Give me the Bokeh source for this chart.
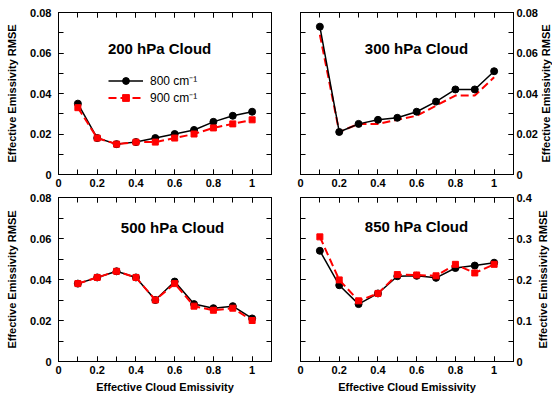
import math
from bokeh.plotting import figure
from bokeh.models import (LinearAxis, SingleIntervalTicker, CustomJSTickFormatter,
                          Range1d, Label, Legend, LegendItem)
from bokeh.layouts import column, row
from bokeh.embed import file_html
from bokeh.resources import INLINE

# ---------------- data ----------------
emissivity = [0.1, 0.2, 0.3, 0.4, 0.5, 0.6, 0.7, 0.8, 0.9, 1.0]

c200_800 = [0.035, 0.018, 0.015, 0.016, 0.018, 0.020, 0.022, 0.026, 0.029, 0.031]
c200_900 = [0.033, 0.018, 0.015, 0.016, 0.016, 0.018, 0.020, 0.023, 0.025, 0.027]
c300_800 = [0.073, 0.021, 0.025, 0.027, 0.028, 0.031, 0.036, 0.042, 0.042, 0.051]
c300_900 = [0.069, 0.021, 0.025, 0.025, 0.027, 0.029, 0.034, 0.039, 0.039, 0.048]
c500_800 = [0.038, 0.041, 0.044, 0.041, 0.030, 0.039, 0.028, 0.026, 0.027, 0.021]
c500_900 = [0.038, 0.041, 0.044, 0.041, 0.030, 0.038, 0.027, 0.025, 0.026, 0.020]
c850_800 = [0.270, 0.186, 0.140, 0.166, 0.208, 0.209, 0.204, 0.228, 0.234, 0.241]
c850_900 = [0.304, 0.199, 0.148, 0.166, 0.212, 0.211, 0.209, 0.237, 0.216, 0.237]

panel_titles = ["200 hPa Cloud", "300 hPa Cloud", "500 hPa Cloud", "850 hPa Cloud"]
series_labels = ["800 cm\u207b\u00b9", "900 cm\u207b\u00b9"]
y_title = "Effective Emissivity RMSE"
x_title = "Effective Cloud Emissivity"

FONT = "Liberation Sans"
FMT = "return Number(tick.toFixed(4)).toString();"


def style_axis(ax, interval, show_labels, standoff=5):
    ax.ticker = SingleIntervalTicker(interval=interval, num_minor_ticks=2)
    ax.formatter = CustomJSTickFormatter(code=FMT)
    ax.major_tick_in = 5
    ax.major_tick_out = 0
    ax.minor_tick_in = 5
    ax.minor_tick_out = 0
    ax.axis_line_color = "black"
    ax.major_tick_line_color = "black"
    ax.minor_tick_line_color = "black"
    ax.major_label_text_font = FONT
    ax.major_label_text_font_style = "bold"
    if show_labels:
        ax.major_label_text_color = "black"
        ax.major_label_text_font_size = "11px"
        ax.major_label_standoff = standoff
    else:
        ax.major_label_text_color = None
        ax.major_label_text_font_size = "0px"
        ax.major_label_standoff = 0
    ax.axis_label_text_font = FONT
    ax.axis_label_text_font_style = "bold"
    ax.axis_label_text_font_size = "11px"
    ax.axis_label_text_color = "black"


def make_panel(ymax, yint, right_side, bottom_row, width, height, borders):
    bl, br, bt, bb = borders
    p = figure(width=width, height=height,
               x_range=Range1d(0, 1.1), y_range=Range1d(0, ymax),
               x_axis_location=None, y_axis_location=None,
               output_backend="svg", toolbar_location=None,
               min_border_left=bl, min_border_right=br,
               min_border_top=bt, min_border_bottom=bb)
    p.grid.visible = False
    p.outline_line_color = "black"
    p.outline_line_width = 1
    p.background_fill_color = "white"
    p.border_fill_color = "white"

    xb = LinearAxis()
    style_axis(xb, 0.2, True, standoff=4)
    if bottom_row:
        xb.axis_label = x_title
        xb.axis_label_standoff = 4
    p.add_layout(xb, "below")

    xa = LinearAxis()
    style_axis(xa, 0.2, False)
    p.add_layout(xa, "above")

    yl = LinearAxis()
    yr = LinearAxis()
    if right_side:
        style_axis(yr, yint, True, standoff=3)
        style_axis(yl, yint, False)
    else:
        style_axis(yl, yint, True, standoff=7)
        yl.axis_label = y_title
        yl.axis_label_standoff = 9
        style_axis(yr, yint, False)
    p.add_layout(yl, "left")
    p.add_layout(yr, "right")
    return p


def add_series(p, y800, y900, red_markers=True, red_first=False):
    def black():
        l = p.line(emissivity, y800, line_color="black", line_width=1.5)
        s = p.scatter(emissivity, y800, marker="circle", size=7,
                      fill_color="black", line_color="black")
        return [l, s]

    def red():
        l = p.line(emissivity, y900, line_color="#ff0000", line_width=2,
                   line_dash="8 4")
        rs = [l]
        if red_markers:
            s = p.scatter(emissivity, y900, marker="square", size=6,
                          fill_color="#ff0000", line_color="#ff0000")
            rs.append(s)
        return rs

    if red_first:
        r = red()
        b = black()
    else:
        b = black()
        r = red()
    return b, r


def add_title(p, x, y, text):
    p.add_layout(Label(x=x, y=y, text=text, text_align="center",
                       text_baseline="middle", text_font=FONT,
                       text_font_style="bold", text_font_size="15px",
                       text_color="black"))


def add_right_title(p, x, y):
    # placed in the right side panel so it is not clipped to the frame
    p.add_layout(Label(x=x, y=y, text=y_title, angle=math.pi / 2,
                       text_align="center", text_baseline="middle",
                       text_font=FONT, text_font_style="bold",
                       text_font_size="11px", text_color="black"), "right")


# top-left: 200 hPa
p1 = make_panel(0.08, 0.02, False, False, 290, 192, (58, 19, 12, 18))
b, r = add_series(p1, c200_800, c200_900)
add_title(p1, 0.522, 0.0622, panel_titles[0])
leg = Legend(items=[LegendItem(label=series_labels[0], renderers=b),
                    LegendItem(label=series_labels[1], renderers=r)],
             location=(50, 68), padding=0, margin=0, spacing=0,
             glyph_width=35, glyph_height=17, label_height=17,
             label_standoff=7, label_text_font=FONT,
             label_text_font_size="12px", label_text_color="black",
             background_fill_alpha=0, border_line_color=None)
p1.add_layout(leg, "center")

# top-right: 300 hPa
p2 = make_panel(0.08, 0.02, True, False, 262, 192, (10, 39, 12, 18))
add_series(p2, c300_800, c300_900, red_markers=False, red_first=True)
add_title(p2, 0.599, 0.0622, panel_titles[1])
add_right_title(p2, 1.268, 0.04)

# bottom-left: 500 hPa
p3 = make_panel(0.08, 0.02, False, True, 290, 204, (58, 19, 5, 35))
add_series(p3, c500_800, c500_900)
add_title(p3, 0.589, 0.0654, panel_titles[2])

# bottom-right: 850 hPa
p4 = make_panel(0.4, 0.1, True, True, 262, 204, (10, 39, 5, 35))
add_series(p4, c850_800, c850_900)
add_title(p4, 0.599, 0.329, panel_titles[3])
add_right_title(p4, 1.25, 0.2)

layout = column(row(p1, p2), row(p3, p4))
open("out.html", "w").write(file_html(layout, INLINE))
